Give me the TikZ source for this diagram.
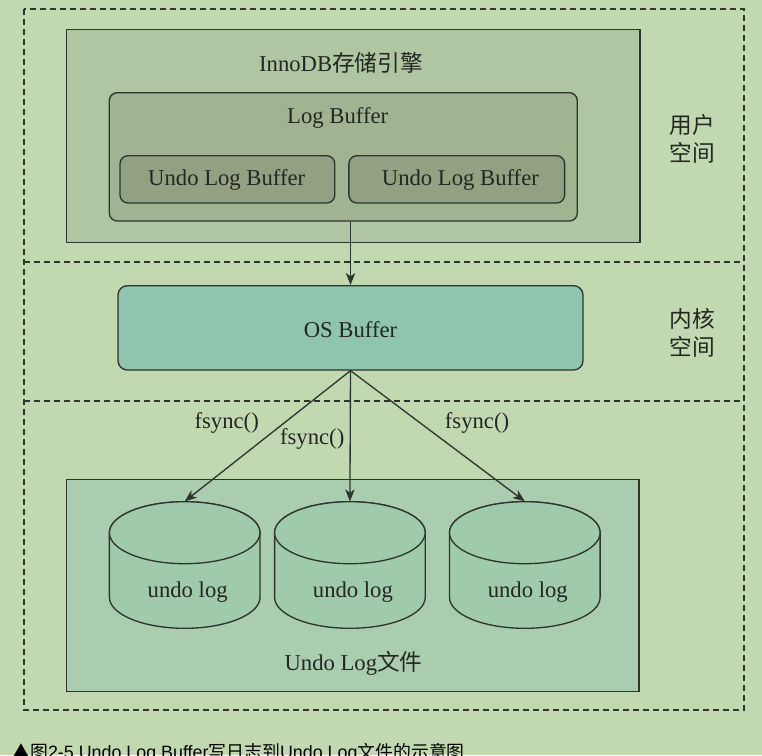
\documentclass[tikz,border=0pt]{standalone}
\usepackage{fontspec}
\setmainfont{Liberation Serif}
\setsansfont{Liberation Sans}
\newfontfamily\cjk{Noto Sans CJK SC}
\usetikzlibrary{fit, arrows.meta, positioning}
\definecolor{bgcol}{RGB}{194,216,177}
\definecolor{innocol}{RGB}{176,197,161}
\definecolor{logcol}{RGB}{160,180,146}
\definecolor{undocol}{RGB}{145,161,129}
\definecolor{oscol}{RGB}{143,197,174}
\definecolor{filecol}{RGB}{171,205,175}
\definecolor{diskcol}{RGB}{160,202,172}
\definecolor{linecol}{RGB}{48,52,46}
\definecolor{txtcol}{RGB}{35,38,34}
\tikzset{
  >={Stealth[length=9pt, width=7pt, inset=2.5pt]}, % arrow heads as in the figure
  every node/.style={font=\fontsize{17}{21}\selectfont, text=txtcol}, % serif labels
  panel/.style={draw=linecol, line width=1pt, inner sep=0pt}, % the boxes
  txt/.style={inner sep=0pt, align=center}, % free texts
  zone/.style={draw=linecol, line width=0.9pt, dash pattern=on 4.5pt off 3pt}, % space borders
  disk/.style={draw=linecol, line width=1pt, fill=diskcol}, % undo log files
  link/.style={->, draw=linecol, line width=1pt}, % the arrows
}

\begin{document}
\begin{tikzpicture}[x=0.75pt, y=-0.75pt]
  \fill[bgcol] (0,0) rectangle (762,755);
  \useasboundingbox (0,0) rectangle (762,755);

  % user space, kernel space, disk
  \draw[zone] (24,9) rectangle (744,710);
  \draw[zone] (24,262) -- (744,262);
  \draw[zone] (24,401) -- (744,401);
  \node[txt] (user) at (692,139) {{\cjk 用户}\\{\cjk 空间}};
  \node[txt] (kern) at (692,333) {{\cjk 内核}\\{\cjk 空间}};

  % InnoDB
  \node[panel, fill=innocol, fit={(66.6,29.3) (640,242.3)}] (inno) {};
  \node[txt] (innotxt) at (341,63) {InnoDB{\cjk 存储引擎}};
  \node[panel, rounded corners=6pt, fill=logcol, fit={(109.3,92.7) (577.3,221)}] (logbuf) {};
  \node[txt] (logtxt) at (337.7,118) {Log Buffer};
  \node[panel, rounded corners=6pt, fill=undocol, fit={(120,155.7) (334.8,203)}] (ub1) {};
  \node[panel, rounded corners=6pt, fill=undocol, fit={(348.9,155.7) (564.6,203)}] (ub2) {};
  \node[txt] (ub1txt) at (226.7,180) {Undo Log Buffer};
  \node[txt] (ub2txt) at (460.4,180) {Undo Log Buffer};

  % OS
  \node[panel, rounded corners=7pt, fill=oscol, fit={(118,285.7) (583,370)}] (osbuf) {};
  \node[txt] (ostxt) at (350.5,330) {OS Buffer};

  % files
  \node[panel, fill=filecol, fit={(66.6,479.3) (639,691.7)}] (files) {};
  \node[txt] (filetxt) at (353.5,663.3) {Undo Log{\cjk 文件}};
  \foreach \n/\cx in {c1/184.7, c2/349.9, c3/524.8} {
    \node[inner sep=0pt, minimum width=112.9pt, minimum height=95pt] (\n) at (\cx,565) {};
    \filldraw[disk] ({\cx-75.3},532.7) -- ({\cx-75.3},597.3)
      arc[start angle=180, end angle=0, x radius=75.3, y radius=31]
      -- ({\cx+75.3},532.7)
      arc[start angle=0, end angle=-180, x radius=75.3, y radius=31] -- cycle;
    \draw[disk] (\cx,532.7) ellipse[x radius=75.3, y radius=31];
    \node[txt] (\n txt) at ({\cx+3},592) {undo log};
  }

  \draw[link] (logbuf.south -| osbuf.north) -- (osbuf.north);
  \draw[link] (osbuf.south) -- (c1.north);
  \draw[link] (osbuf.south) -- (c2.north);
  \draw[link] (osbuf.south) -- (c3.north);
  \node[txt] (f1) at (226.7,423.3) {fsync()};
  \node[txt] (f2) at (312.2,439) {fsync()};
  \node[txt] (f3) at (477,423.3) {fsync()};

  \node[anchor=base west, inner sep=0pt, text=black,
    font=\sffamily\fontsize{13.4}{15}\selectfont] (cap) at (12,758)
    {{\cjk ▲图}2-5 Undo Log Buffer{\cjk 写日志到}Undo Log{\cjk 文件的示意图}};
\end{tikzpicture}
\end{document}
